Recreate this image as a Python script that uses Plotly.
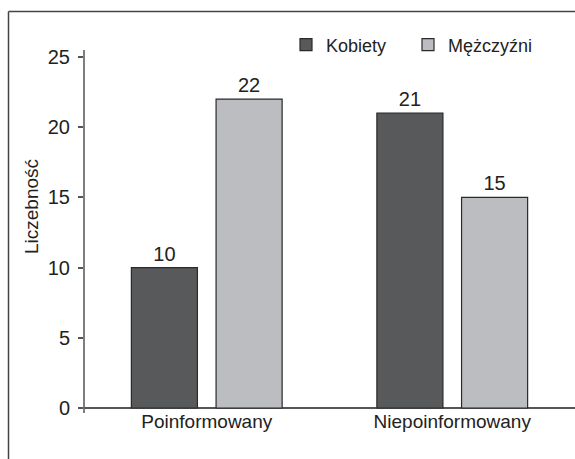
import plotly.graph_objects as go

# data
categories = ["Poinformowany", "Niepoinformowany"]
kobiety = [10, 21]
mezczyzni = [22, 15]
y_ticks = [0, 5, 10, 15, 20, 25]

FONT = "Liberation Sans Narrow, Arial Narrow, Liberation Sans, sans-serif"

fig = go.Figure()
fig.add_trace(go.Bar(
    name="Kobiety", x=categories, y=kobiety, legend="legend",
    marker=dict(color="#58595b", line=dict(color="#2a2a2a", width=1.2)),
    text=kobiety, textposition="outside", cliponaxis=False,
    textfont=dict(size=20),
))
fig.add_trace(go.Bar(
    name="Mężczyźni", x=categories, y=mezczyzni, legend="legend2",
    marker=dict(color="#bcbdc0", line=dict(color="#2a2a2a", width=1.2)),
    text=mezczyzni, textposition="outside", cliponaxis=False,
    textfont=dict(size=20),
))

# plot area in window pixels: x 84..575, y 0..413 (zero at 408, 25 at 57)
L, R, T, B = 84, 0, 0, 459 - 413
W = 575 - L - R
H = 459 - T - B
px_per_unit = (408 - 57) / 25
y_top = 25 + 57 / px_per_unit
y_bottom = -5 / px_per_unit


def px_x(x):
    return (x - L) / W


def px_y(y):
    return 1 - (y - T) / H


legend_style = dict(orientation="h", xanchor="left", y=px_y(45),
                    yanchor="middle", bgcolor="rgba(0,0,0,0)",
                    font=dict(size=18), itemwidth=30)

fig.update_layout(
    width=575, height=459,
    margin=dict(l=L, r=R, t=T, b=B, pad=0),
    paper_bgcolor="white", plot_bgcolor="white",
    font=dict(family=FONT, size=19, color="#222"),
    barmode="group", bargap=0.31, bargroupgap=0.22,
    showlegend=True,
    legend=dict(x=px_x(286), **legend_style),
    legend2=dict(x=px_x(408), **legend_style),
    shapes=[
        # outer frame (only top and left edges visible in the reference)
        dict(type="line", xref="paper", yref="paper",
             x0=px_x(8.5), x1=px_x(580), y0=px_y(11.5), y1=px_y(11.5),
             line=dict(color="#444", width=1.5)),
        dict(type="line", xref="paper", yref="paper",
             x0=px_x(8.5), x1=px_x(8.5), y0=px_y(470), y1=px_y(11.5),
             line=dict(color="#444", width=1.5)),
        # y axis line, running a little past 0 and 25 like the reference
        dict(type="line", xref="paper", yref="y",
             x0=0, x1=0, y0=y_bottom, y1=25.5,
             line=dict(color="#555", width=1.5)),
    ],
)

fig.update_xaxes(
    showline=False, showgrid=False, ticks="", automargin=False,
    tickfont=dict(size=19), range=[-0.5, 1.5], ticklabelstandoff=-5,
)
fig.update_yaxes(
    range=[y_bottom, y_top], tickvals=y_ticks, automargin=False,
    showgrid=False, showline=False,
    ticks="outside", ticklen=5, tickcolor="#555", tickwidth=1.5,
    ticklabelstandoff=4,
    zeroline=True, zerolinecolor="#555", zerolinewidth=1.5,
    tickfont=dict(size=20),
    title=dict(text="Liczebność", font=dict(size=19), standoff=4),
)

# drop the browser's default 8px body margin so the figure fills the window
fig.write_html("out.html", config={"displayModeBar": False},
               post_script="document.body.style.margin = '0';")
